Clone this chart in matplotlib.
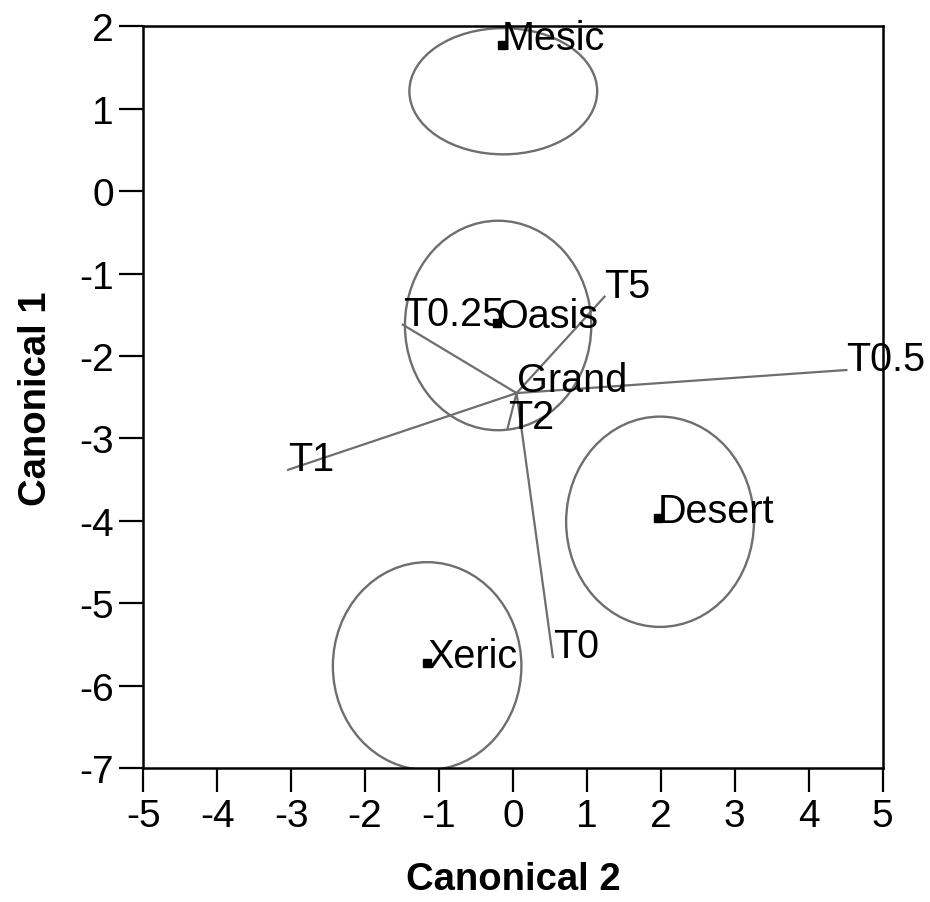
import matplotlib.pyplot as plt
from matplotlib.patches import Ellipse

plt.rcParams['font.family'] = ['Liberation Sans', 'DejaVu Sans']
plt.rcParams['axes.unicode_minus'] = False

# group means on the canonical axes
groups = ['Mesic', 'Oasis', 'Desert', 'Xeric']
group_c2 = [-0.15, -0.22, 1.96, -1.16]
group_c1 = [1.77, -1.60, -3.96, -5.72]

# confidence ellipses (centre, width, height)
ell_c2 = [-0.13, -0.20, 1.99, -1.16]
ell_c1 = [1.21, -1.63, -4.01, -5.76]
ell_w = [2.54, 2.52, 2.54, 2.55]
ell_h = [1.53, 2.54, 2.55, 2.52]

# biplot rays for the treatments, drawn from the grand mean
grand = (0.05, -2.45)
rays = ['T0', 'T0.25', 'T0.5', 'T1', 'T2', 'T5']
ray_c2 = [0.54, -1.49, 4.51, -3.04, -0.07, 1.24]
ray_c1 = [-5.65, -1.62, -2.17, -3.38, -2.87, -1.28]

fig = plt.figure(figsize=(9.3, 9.03), dpi=100)
ax = fig.add_axes([0.154, 0.148, 0.795, 0.822])

gray = '#6e6e6e'
for cx, cy, w, h in zip(ell_c2, ell_c1, ell_w, ell_h):
    ax.add_patch(Ellipse((cx, cy), w, h, fill=False, edgecolor=gray, lw=1.7))

for name, x, y in zip(rays, ray_c2, ray_c1):
    ax.plot([grand[0], x], [grand[1], y], color=gray, lw=1.6)
    ax.text(x, y, name, fontsize=28.5, ha='left', va='baseline', color='black')
ax.text(grand[0], grand[1] + 0.03, 'Grand', fontsize=28.5, ha='left', va='baseline')

ax.plot(group_c2, group_c1, 's', color='black', ms=6)
for name, x, y in zip(groups, group_c2, group_c1):
    ax.text(x, y - 0.05, name, fontsize=28.5, ha='left', va='baseline')

ax.set_xlim(-5, 5)
ax.set_ylim(-7, 2)
ax.set_xticks(range(-5, 6))
ax.set_yticks(range(-7, 3))
ax.tick_params(direction='out', length=17, width=1.6, labelsize=28, pad=4)
for s in ax.spines.values():
    s.set_linewidth(1.8)

ax.set_xlabel('Canonical 2', fontsize=27.5, fontweight='bold', labelpad=20)
ax.set_ylabel('Canonical 1', fontsize=27.5, fontweight='bold', labelpad=18)

fig.savefig('out.png', dpi=100)
